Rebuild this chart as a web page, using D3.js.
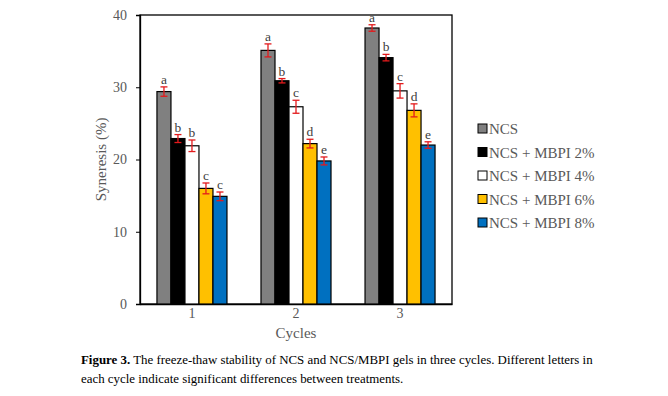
<!DOCTYPE html>
<html>
<head>
<meta charset="utf-8">
<script src="https://cdn.jsdelivr.net/npm/d3@7"></script>
<style>
  body { margin: 0; background: #fff; }
  svg { display: block; }
</style>
</head>
<body>
<div id="chart"></div>
<script>
// Data
var cycles = ["1", "2", "3"];
var seriesNames = ["NCS", "NCS + MBPI 2%", "NCS + MBPI 4%", "NCS + MBPI 6%", "NCS + MBPI 8%"];
var seriesColors = ["#808080", "#000000", "#ffffff", "#ffc000", "#0070c0"];
var ncs     = [29.4, 35.1, 38.2];
var mbpi2   = [22.9, 30.9, 34.1];
var mbpi4   = [21.9, 27.3, 29.5];
var mbpi6   = [16.0, 22.2, 26.8];
var mbpi8   = [14.9, 19.8, 22.0];
var errNcs   = [0.65, 0.9, 0.45];
var errMbpi2 = [0.55, 0.3, 0.45];
var errMbpi4 = [0.8, 0.9, 1.0];
var errMbpi6 = [0.75, 0.6, 0.9];
var errMbpi8 = [0.6, 0.55, 0.45];
var letters1 = ["a", "b", "b", "c", "c"];
var letters2 = ["a", "b", "c", "d", "e"];
var letters3 = ["a", "b", "c", "d", "e"];
var yTicks = [0, 10, 20, 30, 40];

var width = 668, height = 396;
var plot = { left: 140, top: 15, right: 452, bottom: 304 };

var values = [ncs, mbpi2, mbpi4, mbpi6, mbpi8];
var errors = [errNcs, errMbpi2, errMbpi4, errMbpi6, errMbpi8];
var letters = [letters1, letters2, letters3];

var svg = d3.select("#chart")
  .append("svg")
    .attr("width", width)
    .attr("height", height);

var x = d3.scaleBand()
  .domain(cycles)
  .range([plot.left, plot.right])
  .paddingInner(0.327)
  .paddingOuter(0.163);

var xs = d3.scaleBand()
  .domain(d3.range(seriesNames.length))
  .range([0, x.bandwidth()]);

var y = d3.scaleLinear()
  .domain([0, 40])
  .range([plot.bottom, plot.top]);

var serif = "'Liberation Serif', 'Times New Roman', serif";
var grey = "#595959";

// Plot frame
svg.append("rect")
  .attr("x", plot.left)
  .attr("y", plot.top)
  .attr("width", plot.right - plot.left)
  .attr("height", plot.bottom - plot.top)
  .attr("fill", "none")
  .attr("stroke", "#000")
  .attr("stroke-width", 1.3);

// Y axis
var yAxis = svg.append("g")
  .attr("transform", "translate(" + plot.left + ",0)")
  .call(d3.axisLeft(y).tickValues(yTicks).tickSize(4).tickPadding(9));
yAxis.select(".domain").attr("stroke", "#000").attr("stroke-width", 1.3);
yAxis.selectAll(".tick line").attr("stroke", "#000");
yAxis.selectAll("text")
  .attr("fill", grey)
  .style("font-family", serif)
  .style("font-size", "14px");

// X axis labels
var xAxis = svg.append("g")
  .attr("transform", "translate(0," + plot.bottom + ")")
  .call(d3.axisBottom(x).tickSize(0).tickPadding(4));
xAxis.select(".domain").attr("stroke", "#000").attr("stroke-width", 1.3);
xAxis.selectAll("text")
  .attr("fill", grey)
  .style("font-family", serif)
  .style("font-size", "14px");

// Axis titles
svg.append("text")
  .attr("transform", "translate(106," + ((plot.top + plot.bottom) / 2) + ") rotate(-90)")
  .attr("text-anchor", "middle")
  .attr("fill", grey)
  .style("font-family", serif)
  .style("font-size", "15px")
  .text("Syneresis (%)");

svg.append("text")
  .attr("x", (plot.left + plot.right) / 2)
  .attr("y", 338)
  .attr("text-anchor", "middle")
  .attr("fill", grey)
  .style("font-family", serif)
  .style("font-size", "15px")
  .text("Cycles");

// Bars, error bars and letters
cycles.forEach(function(c, ci) {
  var g = svg.append("g").attr("transform", "translate(" + x(c) + ",0)");
  seriesNames.forEach(function(s, si) {
    var v = values[si][ci], e = errors[si][ci];
    var bx = xs(si), bw = xs.bandwidth(), cx = bx + bw / 2;
    g.append("rect")
      .attr("x", bx)
      .attr("y", y(v))
      .attr("width", bw)
      .attr("height", y(0) - y(v))
      .attr("fill", seriesColors[si])
      .attr("stroke", "#000")
      .attr("stroke-width", 1.2);
    var eb = g.append("g").attr("stroke", "#e31a1c").attr("stroke-width", 1.3);
    eb.append("line").attr("x1", cx).attr("x2", cx).attr("y1", y(v - e)).attr("y2", y(v + e));
    eb.append("line").attr("x1", cx - 3.5).attr("x2", cx + 3.5).attr("y1", y(v - e)).attr("y2", y(v - e));
    eb.append("line").attr("x1", cx - 3.5).attr("x2", cx + 3.5).attr("y1", y(v + e)).attr("y2", y(v + e));
    g.append("text")
      .attr("x", cx)
      .attr("y", y(v + e) - 3)
      .attr("text-anchor", "middle")
      .attr("fill", "#404040")
      .style("font-family", serif)
      .style("font-size", "13.5px")
      .text(letters[ci][si]);
  });
});

// Legend
var legend = svg.append("g").attr("transform", "translate(478,129)");
seriesNames.forEach(function(s, i) {
  var row = legend.append("g").attr("transform", "translate(0," + (i * 23.5) + ")");
  row.append("rect")
    .attr("x", 0).attr("y", -5)
    .attr("width", 9).attr("height", 9)
    .attr("fill", seriesColors[i])
    .attr("stroke", "#000")
    .attr("stroke-width", 1);
  row.append("text")
    .attr("x", 11)
    .attr("y", 5)
    .attr("fill", grey)
    .style("font-family", serif)
    .style("font-size", "15px")
    .text(s);
});

// Caption
var cap = svg.append("text")
  .attr("x", 81)
  .attr("y", 364)
  .attr("fill", "#000")
  .style("font-family", serif)
  .style("font-size", "12.9px");
cap.append("tspan").style("font-weight", "bold").text("Figure 3.");
cap.append("tspan").text(" The freeze-thaw stability of NCS and NCS/MBPI gels in three cycles. Different letters in");
svg.append("text")
  .attr("x", 81)
  .attr("y", 383)
  .attr("fill", "#000")
  .style("font-family", serif)
  .style("font-size", "12.9px")
  .text("each cycle indicate significant differences between treatments.");
</script>
</body>
</html>
